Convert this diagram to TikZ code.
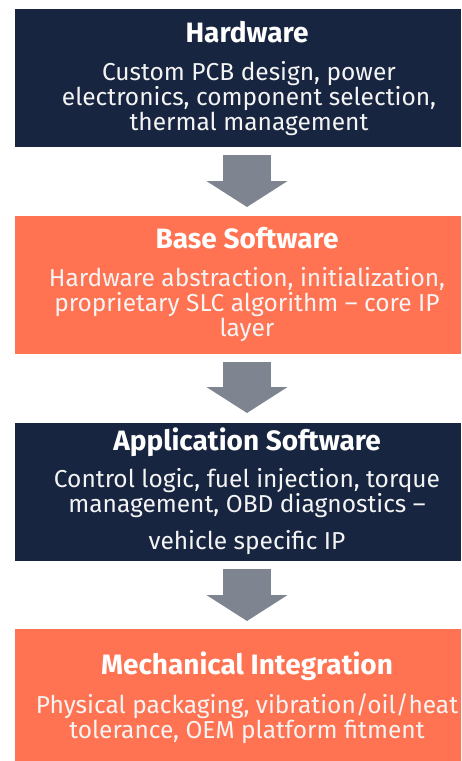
\documentclass[tikz,border=0pt]{standalone}
\usepackage{fontspec}
\setmainfont{Fira Sans}
\usetikzlibrary{arrows.meta}
\usetikzlibrary{calc}
\definecolor{navy}{HTML}{182540}
\definecolor{coral}{HTML}{FF7352}
\definecolor{arrowgray}{HTML}{7F8590}
\definecolor{paper}{HTML}{F4F4F4}
\tikzset{layer/.style={rectangle, minimum width=446pt, minimum height=#1,
         inner sep=0pt, outer sep=0pt},
         layer/.default={138pt},
         title/.style={anchor=base, inner sep=0pt, text=white,
         font=\fontsize{28}{25}\selectfont\bfseries},
         body/.style={anchor=base, inner sep=0pt, align=center, text=paper,
         font=\fontsize{24.5}{25}\selectfont},
         flow/.style={draw=arrowgray, line width=48pt,
         -{Triangle[width=80pt, length=26pt, fill=arrowgray]}}}

\begin{document}
\begin{tikzpicture}[x=1pt, y=-1pt]
        \useasboundingbox (0,0) rectangle (461,761);
        
        % Layer boxes
        \node[layer, fill=navy] (hw) at (238,78) {};
        \node[layer, fill=coral] (bsw) at (238,285) {};
        \node[layer, fill=navy] (asw) at (238,492) {};
        \node[layer=132pt, fill=coral] (mech) at (238,695) {};
        
        % Titles
        \node[title] (hwT) at (247,42) {Hardware};
        \node[title] (bswT) at (247,248) {Base Software};
        \node[title] (aswT) at (247,450) {Application Software};
        \node[title] (mechT) at (247,674) {Mechanical Integration};
        
        % Texts (anchored at the last line)
        \node[body] (hwB) at (249,130) {Custom PCB design, power\\
              electronics, component selection,\\ thermal management};
        \node[body] (bswB) at (247,336) {Hardware abstraction, initialization,\\
              proprietary SLC algorithm – core IP\\ layer};
        \node[body] (aswB) at (247,549) {Control logic, fuel injection, torque\\
              management, OBD diagnostics –\\[12pt] vehicle specific IP};
        \node[body] (mechB) at (247,738) {Physical packaging, vibration/oil/heat\\
              tolerance, OEM platform fitment};
        
        % Arrows
        \draw[flow] ($(hw.south)+(9,8)$) -- ($(bsw.north)+(9,-9)$);
        \draw[flow] ($(bsw.south)+(9,8)$) -- ($(asw.north)+(9,-10)$);
        \draw[flow] ($(asw.south)+(9,8)$) -- ($(mech.north)+(9,-8)$);
        
\end{tikzpicture}
\end{document}
